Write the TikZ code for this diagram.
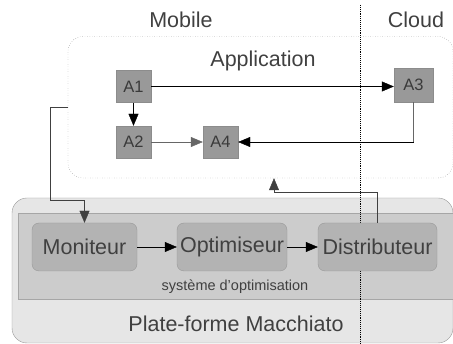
\documentclass[tikz,border=0pt]{standalone}
\usepackage{fontspec}
\setmainfont{Liberation Sans}
\usepackage{tikz}
\usetikzlibrary{arrows.meta}

\definecolor{txt}{HTML}{404040}
\definecolor{afill}{HTML}{999999}
\definecolor{modfill}{HTML}{B3B3B3}
\definecolor{sysfill}{HTML}{CCCCCC}
\definecolor{platfill}{HTML}{E6E6E6}

\begin{document}
\begin{tikzpicture}[x=1pt,y=-1pt,
  >={Triangle[length=12pt,width=10pt]},
  lbl/.style={text=txt,font=\fontsize{21.5}{24}\selectfont,inner sep=0pt},
  abox/.style={draw=black!45,fill=afill,text=txt!90!black,inner sep=0pt,
    minimum width=35pt,minimum height=32pt,font=\fontsize{16.5}{18}\selectfont},
  modbox/.style={draw=black!40,fill=modfill,rounded corners=7pt,inner sep=0pt,
    minimum height=48pt,text=txt,font=\fontsize{21.5}{24}\selectfont}]

\clip(0,0) rectangle (453,344);

% zones
\node[draw=black!40,fill=platfill,rounded corners=15pt,minimum width=441pt,minimum height=145pt,inner sep=0pt](plat) at (232.5,270.5){};
\node[draw=black!35,fill=sysfill,minimum width=452pt,minimum height=86pt,inner sep=0pt](sys) at (244,256){};
\node[draw=black!60,dotted,rounded corners=15pt,minimum width=385pt,minimum height=141.5pt,inner sep=0pt](app) at (260.5,107.25){};
\draw[densely dotted,line width=0.9pt](360,5)--(360,344);

\node[lbl](mob) at (181,20){Mobile};
\node[lbl](cld) at (416,20){Cloud};
\node[lbl](apptxt) at (263,61){Application};
\node[lbl](plattxt) at (236,324){Plate-forme Macchiato};
\node[lbl,font=\fontsize{14.5}{16}\selectfont](systxt) at (235,287){système d’optimisation};

% application
\node[abox](a1) at (133.5,86.5){A1};
\node[abox](a2) at (133.5,142){A2};
\node[abox](a4) at (220.5,142){A4};
\node[abox,minimum width=39pt,minimum height=34pt](a3) at (413.5,85){A3};

\draw[->](a1.east)--(a1.east-|a3.west);
\draw[->](a1)--(a2);
\draw[->,black!60](a2)--(a4);
\draw[black!60](a3.south)--(a3.south|-a4.east);
\draw[->](a3.south|-a4.east)--(a4.east);

% optimisation
\node[modbox,minimum width=105pt](mon) at (84.5,247){Moniteur};
\node[modbox,minimum width=110pt](opt) at (232,247){Optimiseur};
\node[modbox,minimum width=119pt](dist) at (377.5,247){Distributeur};

\draw[->](mon)--(opt);
\draw[->](opt)--(dist);

\coordinate(c1) at (50,200);
\coordinate(c2) at (274,192);
\draw[->,black!75](app.west)-|(c1)-|(mon.north);
\draw[->,black!75](dist.north)|-(c2)--(c2|-app.south);

\end{tikzpicture}
\end{document}
